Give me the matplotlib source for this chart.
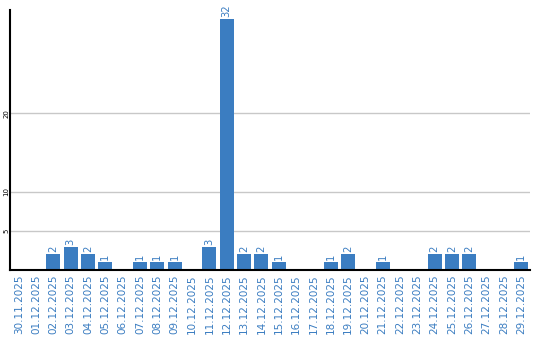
import matplotlib
matplotlib.use("Agg")
import matplotlib.pyplot as plt

dates = [
    "30.11.2025", "01.12.2025", "02.12.2025", "03.12.2025", "04.12.2025",
    "05.12.2025", "06.12.2025", "07.12.2025", "08.12.2025", "09.12.2025",
    "10.12.2025", "11.12.2025", "12.12.2025", "13.12.2025", "14.12.2025",
    "15.12.2025", "16.12.2025", "17.12.2025", "18.12.2025", "19.12.2025",
    "20.12.2025", "21.12.2025", "22.12.2025", "23.12.2025", "24.12.2025",
    "25.12.2025", "26.12.2025", "27.12.2025", "28.12.2025", "29.12.2025",
]
counts = [0, 0, 2, 3, 2, 1, 0, 1, 1, 1, 0, 3, 32, 2, 2,
          1, 0, 0, 1, 2, 0, 1, 0, 0, 2, 2, 2, 0, 0, 1]
yticks = [5, 10, 20]

BLUE = "#3b7dc1"

fig = plt.figure(figsize=(5.4, 3.4), dpi=100)
ax = fig.add_axes([10 / 540, 70 / 340, 520 / 540, 260 / 340])

x = list(range(len(dates)))
ax.bar(x, counts, width=0.8, color=BLUE, zorder=3)
for xi, v in zip(x, counts):
    if v:
        ax.text(xi, v + 0.25, str(v), rotation=90, ha="center", va="bottom",
                color=BLUE, fontsize=7.2)

ax.set_xlim(-0.5, len(dates) - 0.5)
ax.set_ylim(0, 33.2)
ax.set_yticks(yticks)
ax.set_yticklabels([str(t) for t in yticks], rotation=90, va="center",
                   fontsize=5)
ax.set_xticks(x)
ax.set_xticklabels(dates, rotation=90, color=BLUE, fontsize=7.5)
ax.tick_params(axis="x", length=0, pad=3)
ax.tick_params(axis="y", length=0, pad=0.5)
ax.yaxis.grid(True, color="#c8c8c8", linewidth=1, zorder=0)

for side in ["top", "right"]:
    ax.spines[side].set_visible(False)
ax.spines["left"].set_linewidth(1.5)
ax.spines["bottom"].set_linewidth(1.5)
ax.spines["bottom"].set_zorder(4)

fig.savefig("out.png", dpi=100)
